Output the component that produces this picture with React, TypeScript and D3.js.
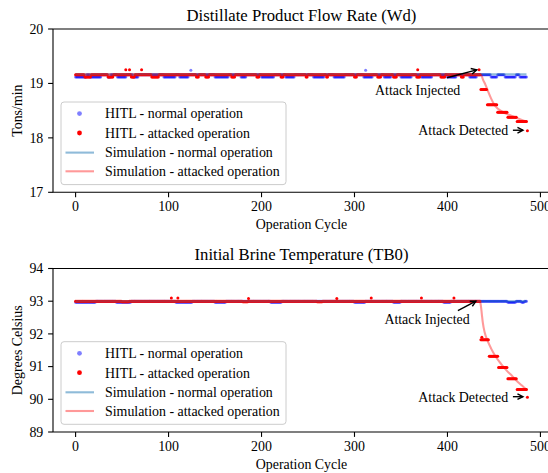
import React from 'react';
import * as d3 from 'd3';

const W = 548;
const H = 473;
const FONT = '"Liberation Serif", "Times New Roman", serif';
const FS = 13.9;

// shared x axis
const xTicks = [0, 100, 200, 300, 400, 500];
const xDomain = [-24.3, 510.3];

// ---- top panel: Distillate Product Flow Rate (Wd) ----
const topTicks = [17, 18, 19, 20];
// [start cycle, value] — value holds until the next entry
const topNormalSteps: [number, number][] = [
  [0, 19.12], [12, 19.16], [16, 19.12], [28, 19.16], [35, 19.12], [38, 19.16], [45, 19.12], [55, 19.16],
  [62, 19.12], [68, 19.16], [95, 19.12], [108, 19.16], [112, 19.12], [122, 19.16], [150, 19.12], [165, 19.16],
  [178, 19.12], [184, 19.16], [200, 19.12], [214, 19.16], [226, 19.12], [236, 19.16], [256, 19.12], [268, 19.16],
  [278, 19.12], [290, 19.16], [310, 19.12], [320, 19.16], [332, 19.12], [340, 19.16], [350, 19.12], [362, 19.16],
  [372, 19.12], [384, 19.16], [400, 19.12], [410, 19.16], [424, 19.12], [432, 19.16], [447, 19.12], [454, 19.16],
  [462, 19.12], [474, 19.16], [478, 19.12],
];
const topAttackSteps: [number, number][] = [
  [0, 19.16], [10, 19.12], [17, 19.16], [35, 19.12], [41, 19.16], [60, 19.12], [64, 19.16], [82, 19.12],
  [90, 19.16], [130, 19.12], [133, 19.16], [140, 19.12], [144, 19.16], [168, 19.12], [172, 19.16], [195, 19.12],
  [198, 19.16], [221, 19.12], [224, 19.16], [248, 19.12], [250, 19.16], [270, 19.12], [272, 19.16], [300, 19.12],
  [303, 19.16], [325, 19.12], [329, 19.16], [342, 19.12], [346, 19.16], [367, 19.12], [371, 19.16], [393, 19.12],
  [398, 19.16], [415, 19.12], [418, 19.16],
  [436, 18.89], [443, 18.61], [454, 18.47], [465, 18.38], [475, 18.3], [486, 18.13],
];
const topNormalOutliers: [number, number][] = [[124, 19.24], [312, 19.24]];
const topAttackOutliers: [number, number][] = [[54, 19.25], [58, 19.25], [71, 19.25], [368, 19.25], [434, 19.25]];
const topSimNormal: [number, number][] = [[0, 19.17], [485, 19.17]];
const topSimAttack: [number, number][] = [
  [0, 19.17], [436, 19.17], [438, 19.08], [441, 18.97], [444, 18.84], [447, 18.72], [450, 18.62],
  [454, 18.54], [460, 18.47], [467, 18.42], [474, 18.37], [480, 18.33], [485, 18.3],
];

// ---- bottom panel: Initial Brine Temperature (TB0) ----
const botTicks = [89, 90, 91, 92, 93, 94];
const botNormalSteps: [number, number][] = [
  [0, 92.97], [22, 93.0], [44, 92.97], [60, 93.0], [108, 92.97], [126, 93.0], [150, 92.97], [162, 93.0],
  [210, 92.97], [222, 93.0], [300, 92.97], [312, 93.0], [342, 92.97], [350, 93.0], [396, 92.97], [404, 93.0],
  [465, 92.97], [474, 93.0], [480, 92.97], [483, 93.0],
];
const botAttackSteps: [number, number][] = [
  [0, 93.0], [50, 92.98], [58, 93.0], [180, 92.98], [186, 93.0], [260, 92.98], [266, 93.0],
  [436, 91.82], [445, 91.32], [455, 90.97], [465, 90.63], [475, 90.3], [486, 90.06],
];
const botNormalOutliers: [number, number][] = [];
const botAttackOutliers: [number, number][] = [
  [103, 93.1], [110, 93.1], [186, 93.08], [281, 93.08], [318, 93.1], [372, 93.1], [407, 93.1], [437, 91.9],
];
const botSimNormal: [number, number][] = [[0, 93.0], [485, 93.0]];
const botSimAttack: [number, number][] = [
  [0, 93.0], [435, 93.0], [436, 92.85], [437, 92.6], [438, 92.35], [440, 92.05], [443, 91.8], [447, 91.55],
  [452, 91.3], [458, 91.07], [464, 90.87], [470, 90.7], [476, 90.52], [481, 90.4], [485, 90.3],
];

const legendLabels = [
  'HITL - normal operation',
  'HITL - attacked operation',
  'Simulation - normal operation',
  'Simulation - attacked operation',
];

const C_NORMAL_DOT = 'rgba(0,0,255,0.5)';
const C_ATTACK_DOT = '#ff0000';
const C_SIM_NORMAL = 'rgba(31,119,180,0.5)';
const C_SIM_ATTACK = 'rgba(255,0,0,0.4)';

const expand = (steps: [number, number][], end: number): [number, number][] => {
  const out: [number, number][] = [];
  steps.forEach((s, i) => {
    const stop = i < steps.length - 1 ? steps[i + 1][0] : end;
    for (let c = s[0]; c < stop; c++) out.push([c, s[1]]);
  });
  return out;
};

type Note = { text: string; at: [number, number]; from: [number, number]; to: [number, number] };

const topNotes: Note[] = [
  { text: 'Attack Injected', at: [368, 18.88], from: [399.5, 19.105], to: [431.5, 19.25] },
  { text: 'Attack Detected', at: [417, 18.14], from: [470.4, 18.14], to: [481.2, 18.14] },
];
const botNotes: Note[] = [
  { text: 'Attack Injected', at: [378, 92.45], from: [411.2, 92.71], to: [430.6, 93.0] },
  { text: 'Attack Detected', at: [417, 90.08], from: [470.4, 90.08], to: [481.2, 90.08] },
];

const x = d3.scaleLinear().domain(xDomain).range([53, 550]);

interface PanelProps {
  top: number;
  bottom: number;
  yDomain: [number, number];
  yTicks: number[];
  title: string;
  yLabel: string;
  normal: [number, number][];
  attack: [number, number][];
  simNormal: [number, number][];
  simAttack: [number, number][];
  notes: Note[];
}

const Panel: React.FC<PanelProps> = ({ top, bottom, yDomain, yTicks, title, yLabel, normal, attack, simNormal, simAttack, notes }) => {
  const y = d3.scaleLinear().domain(yDomain).range([bottom, top]);
  const line = d3.line<[number, number]>().x(d => x(d[0])).y(d => y(d[1])).curve(d3.curveMonotoneX);
  const [x0, x1] = x.range();
  const legX = x0 + 8;
  const legH = 82.6;
  const legY = bottom - 7.7 - legH;
  const rows = [11.6, 31, 50.6, 69.3];

  return (
    <g>
      <text x={(x0 + x1) / 2} y={top - 8.5} textAnchor="middle" fontSize={16.7} fontFamily={FONT}>{title}</text>

      {normal.map((d, i) => (
        <circle key={`n${i}`} cx={x(d[0])} cy={y(d[1])} r={1.5} fill={C_NORMAL_DOT} />
      ))}
      {attack.map((d, i) => (
        <circle key={`a${i}`} cx={x(d[0])} cy={y(d[1])} r={1.5} fill={C_ATTACK_DOT} />
      ))}
      <path d={line(simNormal) || ''} fill="none" stroke={C_SIM_NORMAL} strokeWidth={2.1} />
      <path d={line(simAttack) || ''} fill="none" stroke={C_SIM_ATTACK} strokeWidth={2.1} />

      {/* spines */}
      <line x1={x0} y1={top} x2={x1} y2={top} stroke="#000" strokeWidth={1.1} />
      <line x1={x0} y1={bottom} x2={x1} y2={bottom} stroke="#000" strokeWidth={1.1} />
      <line x1={x0} y1={top} x2={x0} y2={bottom} stroke="#000" strokeWidth={1.1} />

      {xTicks.map(t => (
        <g key={`xt${t}`}>
          <line x1={x(t)} y1={bottom} x2={x(t)} y2={bottom + 4.9} stroke="#000" strokeWidth={1.1} />
          <text x={x(t)} y={bottom + 19} textAnchor="middle" fontSize={FS} fontFamily={FONT}>{t}</text>
        </g>
      ))}
      {yTicks.map(t => (
        <g key={`yt${t}`}>
          <line x1={x0} y1={y(t)} x2={x0 - 4.9} y2={y(t)} stroke="#000" strokeWidth={1.1} />
          <text x={x0 - 9.7} y={y(t)} dy="0.35em" textAnchor="end" fontSize={FS} fontFamily={FONT}>{t}</text>
        </g>
      ))}
      <text x={(x0 + x1) / 2} y={bottom + 36.5} textAnchor="middle" fontSize={FS} fontFamily={FONT}>Operation Cycle</text>
      <text transform={`translate(17,${(top + bottom) / 2}) rotate(-90)`} dy="0.35em" textAnchor="middle" fontSize={FS} fontFamily={FONT}>{yLabel}</text>

      {notes.map((n, i) => {
        const tx = x(n.to[0]);
        const ty = y(n.to[1]);
        const fx = x(n.from[0]);
        const fy = y(n.from[1]);
        const ang = Math.atan2(ty - fy, tx - fx);
        const hl = 5.5;
        const hw = 2.8;
        const bx = tx - hl * Math.cos(ang);
        const by = ty - hl * Math.sin(ang);
        const px = -Math.sin(ang) * hw;
        const py = Math.cos(ang) * hw;
        return (
          <g key={`note${i}`}>
            <text x={x(n.at[0])} y={y(n.at[1])} dy="0.35em" textAnchor="middle" fontSize={FS} fontFamily={FONT}>{n.text}</text>
            <line x1={fx} y1={fy} x2={tx} y2={ty} stroke="#000" strokeWidth={1.4} />
            <path d={`M${bx + px},${by + py} L${tx},${ty} L${bx - px},${by - py}`} fill="none" stroke="#000" strokeWidth={1.4} />
          </g>
        );
      })}

      <rect x={legX} y={legY} width={225} height={legH} rx={3} fill="rgba(255,255,255,0.8)" stroke="#cccccc" strokeWidth={1} />
      {legendLabels.map((lab, i) => {
        const cy = legY + rows[i];
        return (
          <g key={`leg${i}`}>
            {i === 0 && <circle cx={legX + 18.5} cy={cy} r={2.4} fill={C_NORMAL_DOT} />}
            {i === 1 && <circle cx={legX + 18.5} cy={cy} r={2.4} fill={C_ATTACK_DOT} />}
            {i === 2 && <line x1={legX + 4.5} x2={legX + 33} y1={cy} y2={cy} stroke={C_SIM_NORMAL} strokeWidth={2.1} />}
            {i === 3 && <line x1={legX + 4.5} x2={legX + 33} y1={cy} y2={cy} stroke={C_SIM_ATTACK} strokeWidth={2.1} />}
            <text x={legX + 44} y={cy} dy="0.35em" fontSize={FS} fontFamily={FONT}>{lab}</text>
          </g>
        );
      })}
    </g>
  );
};

export default function App() {
  return (
    <svg width={W} height={H} style={{ position: 'absolute', left: 0, top: 0, background: '#fff' }}>
      <rect width={W} height={H} fill="#fff" />
      <Panel
        top={29}
        bottom={192.3}
        yDomain={[17, 20]}
        yTicks={topTicks}
        title="Distillate Product Flow Rate (Wd)"
        yLabel="Tons/min"
        normal={[...expand(topNormalSteps, 486), ...topNormalOutliers]}
        attack={[...expand(topAttackSteps, 487), ...topAttackOutliers]}
        simNormal={topSimNormal}
        simAttack={topSimAttack}
        notes={topNotes}
      />
      <Panel
        top={268.5}
        bottom={432}
        yDomain={[89, 94]}
        yTicks={botTicks}
        title="Initial Brine Temperature (TB0)"
        yLabel="Degrees Celsius"
        normal={[...expand(botNormalSteps, 486), ...botNormalOutliers]}
        attack={[...expand(botAttackSteps, 487), ...botAttackOutliers]}
        simNormal={botSimNormal}
        simAttack={botSimAttack}
        notes={botNotes}
      />
    </svg>
  );
}
